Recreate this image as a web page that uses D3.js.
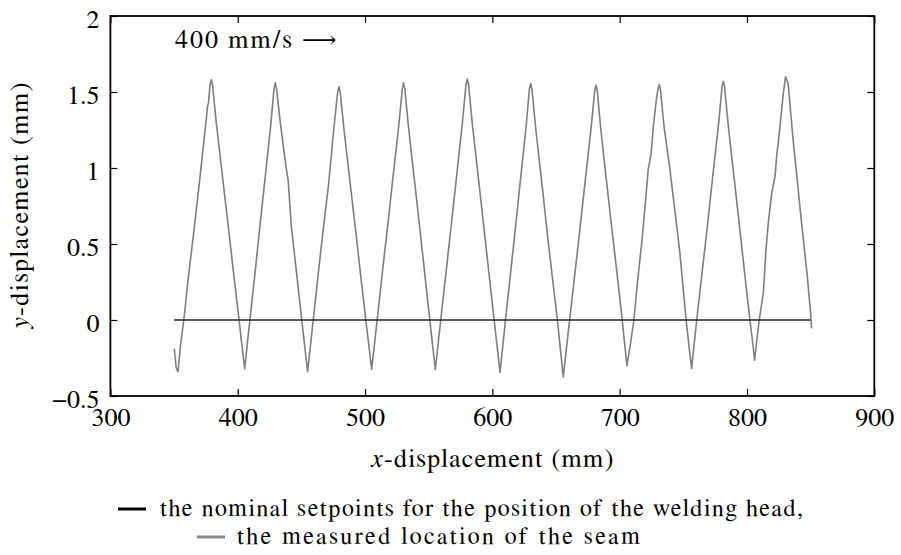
<!DOCTYPE html>
<html>
<head>
<meta charset="utf-8">
<script src="https://cdn.jsdelivr.net/npm/d3@7"></script>
<style>
  body { margin: 0; background: #fff; }
  svg { display: block; }
</style>
</head>
<body>
<svg id="chart" width="901" height="555"></svg>
<script>
// Axis ticks
const xTicks = [300, 400, 500, 600, 700, 800, 900];
const yTicks = [-0.5, 0, 0.5, 1, 1.5, 2];
const yTickLabels = ["\u22120.5", "0", "0.5", "1", "1.5", "2"];

// Nominal setpoints of the welding head (straight line along y = 0)
const nominalX = [350, 850];
const nominalY = [0, 0];

// Measured seam location (mm)
const seamX = [
  350.1, 350.8, 351.6, 352.4, 353.1,
  355.0, 357.8, 361.5, 366.2, 370.5, 375.4, 376.3, 377.1, 378.3, 379.3,
  380.3, 383.2, 387.8, 392.4, 396.6, 400.8, 403.2, 405.5,
  407.6, 409.8, 413.6, 417.5, 421.7, 425.9, 428.5, 429.5,
  430.5, 433.3, 436.0, 438.3, 439.6, 442.2, 446.2, 450.3, 452.6, 454.9,
  457.1, 459.3, 463.2, 467.2, 471.2, 475.4, 478.5, 479.5,
  480.5, 483.4, 487.9, 492.4, 496.5, 500.6, 502.9, 505.2,
  507.4, 509.7, 513.7, 517.8, 522.1, 526.5, 529.3, 530.3,
  531.3, 534.0, 538.4, 542.8, 546.7, 550.7, 553.0, 555.2,
  557.5, 559.7, 563.7, 567.8, 572.1, 576.5, 579.3, 580.3,
  581.3, 584.2, 588.7, 593.2, 597.3, 601.4, 603.7, 606.0,
  608.2, 610.3, 614.2, 618.1, 622.3, 626.5, 629.1, 630.1,
  631.1, 634.0, 638.5, 642.9, 647.0, 651.1, 653.4, 655.7,
  658.0, 660.3, 664.5, 668.6, 673.0, 677.5, 680.4, 681.4,
  682.4, 685.0, 689.3, 693.6, 697.6, 701.6, 703.6, 705.7,
  708.4, 711.2, 714.0, 717.3, 720.3, 722.4, 724.8, 726.4, 728.8, 730.1, 731.1,
  732.1, 734.9, 739.5, 744.8, 747.3, 752.2, 754.3, 756.5,
  758.5, 760.5, 764.7, 769.0, 773.3, 777.7, 780.4, 781.4,
  782.4, 785.1, 789.4, 793.7, 798.0, 802.3, 804.2, 806.0,
  807.8, 809.6, 812.8, 814.9, 816.7, 819.4, 822.0, 823.3, 825.9, 828.5, 830.3,
  832.3, 836.3, 839.6, 842.9, 847.4, 850.0, 850.7
];
const seamY = [
  -0.19, -0.24, -0.31, -0.33, -0.34,
  -0.17, 0.01, 0.30, 0.63, 0.95, 1.33, 1.41, 1.43, 1.55, 1.58,
  1.54, 1.295, 0.96, 0.63, 0.32, 0.02, -0.16, -0.32,
  -0.15, 0.018, 0.31, 0.62, 0.95, 1.28, 1.52, 1.56,
  1.52, 1.31, 1.13, 0.99, 0.92, 0.61, 0.31, 0.0, -0.17, -0.34,
  -0.17, 0.0, 0.30, 0.60, 0.88, 1.25, 1.50, 1.535,
  1.50, 1.26, 0.93, 0.605, 0.30, 0.0, -0.16, -0.325,
  -0.16, 0.014, 0.32, 0.62, 0.95, 1.28, 1.52, 1.56,
  1.52, 1.28, 0.95, 0.62, 0.32, 0.014, -0.16, -0.325,
  -0.15, 0.019, 0.32, 0.63, 0.96, 1.30, 1.55, 1.585,
  1.55, 1.295, 0.96, 0.62, 0.31, 0.0, -0.17, -0.345,
  -0.17, -0.003, 0.30, 0.605, 0.94, 1.27, 1.52, 1.555,
  1.52, 1.265, 0.93, 0.59, 0.29, 0.0, -0.19, -0.375,
  -0.20, -0.03, 0.28, 0.585, 0.92, 1.257, 1.51, 1.545,
  1.51, 1.27, 0.94, 0.62, 0.33, 0.032, -0.13, -0.30,
  -0.16, 0.0, 0.25, 0.505, 0.78, 0.99, 1.10, 1.27, 1.45, 1.52, 1.55,
  1.51, 1.27, 0.987, 0.62, 0.44, 0.0, -0.16, -0.32,
  -0.16, 0.0, 0.31, 0.625, 0.96, 1.29, 1.535, 1.57,
  1.535, 1.295, 0.97, 0.65, 0.32, 0.0, -0.13, -0.265,
  -0.13, 0.0, 0.175, 0.46, 0.636, 0.834, 0.943, 1.074, 1.27, 1.49, 1.60,
  1.557, 1.18, 0.91, 0.636, 0.285, 0.044, -0.055
];

const legendLabels = [
  "the nominal setpoints for the position of the welding head,",
  "the measured location of the seam"
];

const FONT = "FreeSerif, 'Liberation Serif', 'DejaVu Serif', serif";
const fontSize = 26;
const svg = d3.select("#chart");
const plot = { left: 110.4, right: 874.3, top: 16, bottom: 396 };

const x = d3.scaleLinear().domain([300, 900]).range([plot.left, plot.right]);
const y = d3.scaleLinear().domain([-0.5, 2]).range([plot.bottom, plot.top]);

function serif(sel, size) {
  return sel.style("font-family", FONT).style("font-size", size + "px").style("fill", "#000");
}

// Series
const line = d3.line().x(d => x(d[0])).y(d => y(d[1]));
const nominal = d3.zip(nominalX, nominalY);
const seam = d3.zip(seamX, seamY);

svg.append("path").datum(seam)
  .attr("d", line).attr("fill", "none")
  .attr("stroke", "#7f7f7f").attr("stroke-width", 1.6)
  .attr("stroke-linejoin", "round");
svg.append("path").datum(nominal)
  .attr("d", line).attr("fill", "none")
  .attr("stroke", "#262626").attr("stroke-width", 1.6);

// Axes with inward ticks on all four sides
function styleAxis(g) {
  g.attr("font-family", null);
  g.select(".domain").remove();
  g.selectAll(".tick line").attr("stroke", "#000").attr("stroke-width", 1.2);
  serif(g.selectAll(".tick text"), fontSize);
}
const tickLen = 7;
svg.append("g").attr("transform", `translate(0,${plot.bottom})`)
  .call(d3.axisBottom(x).tickValues(xTicks).tickSize(-tickLen).tickPadding(12).tickFormat(d3.format("d")))
  .call(styleAxis);
svg.append("g").attr("transform", `translate(0,${plot.top})`)
  .call(d3.axisTop(x).tickValues(xTicks).tickSize(-tickLen).tickFormat(""))
  .call(styleAxis);
svg.append("g").attr("transform", `translate(${plot.left},0)`)
  .call(d3.axisLeft(y).tickValues(yTicks).tickSize(-tickLen).tickPadding(11)
    .tickFormat((d, i) => yTickLabels[i]))
  .call(styleAxis)
  .call(g => g.selectAll(".tick text").attr("dy", "0.46em"));
svg.append("g").attr("transform", `translate(${plot.right},0)`)
  .call(d3.axisRight(y).tickValues(yTicks).tickSize(-tickLen).tickFormat(""))
  .call(styleAxis);

// Frame
svg.append("rect")
  .attr("x", plot.left).attr("y", plot.top)
  .attr("width", plot.right - plot.left).attr("height", plot.bottom - plot.top)
  .attr("fill", "none").attr("stroke", "#000").attr("stroke-width", 1.8);

// Axis titles
const xt = serif(svg.append("text"), fontSize)
  .attr("x", (plot.left + plot.right) / 2).attr("y", 467)
  .attr("text-anchor", "middle")
  .attr("textLength", 242).attr("lengthAdjust", "spacing");
xt.append("tspan").style("font-style", "italic").text("x");
xt.append("tspan").text("-displacement (mm)");

const yt = serif(svg.append("text"), fontSize)
  .attr("transform", `translate(28,${(plot.top + plot.bottom) / 2}) rotate(-90)`)
  .attr("text-anchor", "middle")
  .attr("textLength", 247).attr("lengthAdjust", "spacing");
yt.append("tspan").style("font-style", "italic").text("y");
yt.append("tspan").text("-displacement (mm)");

// Speed annotation with a long right arrow
serif(svg.append("text"), fontSize).attr("x", 175).attr("y", 48)
  .attr("textLength", 117).attr("lengthAdjust", "spacing")
  .text("400 mm/s");
svg.append("text").attr("x", 302).attr("y", 48)
  .style("font-family", "'DejaVu Serif', serif").style("font-size", "24px")
  .style("fill", "#000")
  .text("\u27F6");

// Legend
const legendSize = 24;
const legend = [
  { x0: 118, x1: 146, tx: 160, y: 516, len: 643, color: "#000" },
  { x0: 197, x1: 225, tx: 237, y: 544, len: 403, color: "#8c8c8c" }
];
legend.forEach((d, i) => {
  svg.append("line").attr("x1", d.x0).attr("x2", d.x1)
    .attr("y1", d.y - 7).attr("y2", d.y - 7)
    .attr("stroke", d.color).attr("stroke-width", 3);
  serif(svg.append("text"), legendSize).attr("x", d.tx).attr("y", d.y)
    .attr("textLength", d.len).attr("lengthAdjust", "spacing")
    .text(legendLabels[i]);
});
</script>
</body>
</html>
